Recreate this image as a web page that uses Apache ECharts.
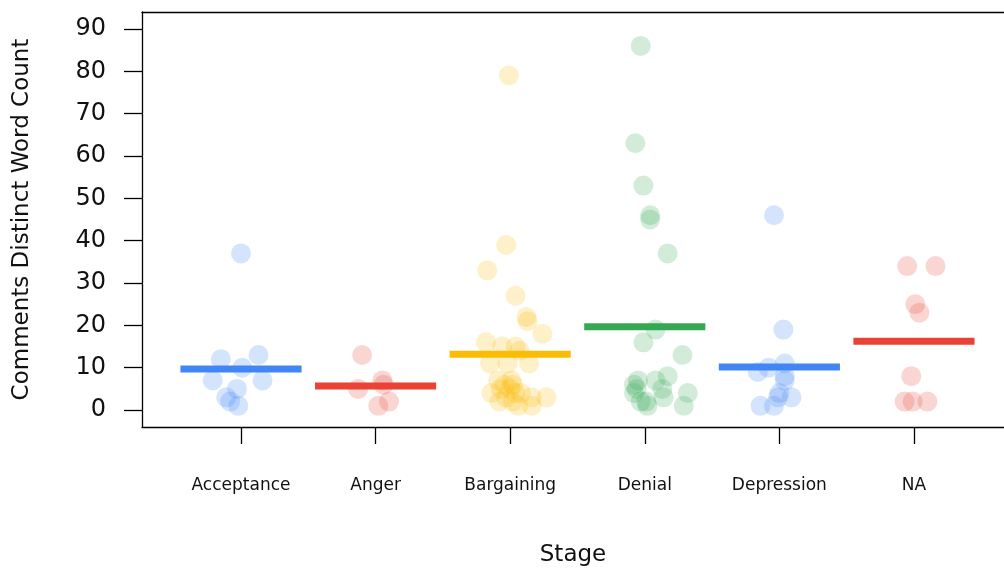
<!DOCTYPE html>
<html>
<head>
<meta charset="utf-8">
<script src="https://cdn.jsdelivr.net/npm/echarts@6/dist/echarts.min.js"></script>
<style>
html,body{margin:0;padding:0;background:#fff;}
#chart{width:1004px;height:568px;}
</style>
</head>
<body>
<div id="chart"></div>
<script>
// ---- data ----
const categories = ['Acceptance', 'Anger', 'Bargaining', 'Denial', 'Depression', 'NA'];
const yTicks = [0, 10, 20, 30, 40, 50, 60, 70, 80, 90];

const acceptanceValues = [37, 12, 13, 10, 7, 7, 5, 3, 2, 1];
const acceptanceJitter = [0, -0.15, 0.13, 0.01, -0.21, 0.16, -0.03, -0.11, -0.08, -0.02];

const angerValues = [13, 5, 7, 6, 1, 2];
const angerJitter = [-0.10, -0.13, 0.05, 0.06, 0.02, 0.10];

const bargainingValues = [79, 39, 33, 27, 22, 21, 18, 16, 15, 15, 14, 11, 11, 11, 7, 7, 6, 6, 5, 5, 4, 4, 4, 3, 3, 3, 2, 2, 1, 1];
const bargainingJitter = [-0.01, -0.03, -0.17, 0.04, 0.12, 0.13, 0.24, -0.18, -0.06, 0.04, 0.07, -0.15, -0.02, 0.14, -0.09, 0.01, 0.02, -0.04, -0.07, 0, 0.04, 0.08, -0.14, -0.03, 0.16, 0.27, -0.08, 0.02, 0.06, 0.16];

const denialValues = [86, 63, 53, 46, 45, 37, 19, 16, 13, 8, 7, 6, 7, 5, 5, 4, 4, 3, 2, 2, 1, 1];
const denialJitter = [-0.03, -0.07, -0.01, 0.04, 0.04, 0.17, 0.08, -0.01, 0.28, 0.17, -0.05, -0.08, 0.08, 0.13, -0.06, -0.08, 0.32, 0.14, 0.01, -0.03, 0.02, 0.29];

const depressionValues = [46, 19, 9, 10, 11, 8, 7, 4, 3, 3, 1, 1];
const depressionJitter = [-0.04, 0.03, -0.16, -0.08, 0.04, 0.04, 0.04, 0, -0.01, 0.09, -0.14, -0.04];

const naValues = [34, 34, 25, 23, 8, 2, 2, 2];
const naJitter = [-0.05, 0.16, 0.01, 0.04, -0.02, -0.07, -0.01, 0.10];

const groupValues = [acceptanceValues, angerValues, bargainingValues, denialValues, depressionValues, naValues];
const groupJitter = [acceptanceJitter, angerJitter, bargainingJitter, denialJitter, depressionJitter, naJitter];

// ---- styles ----
const colors = ['#4285F4', '#EA4335', '#FBBC05', '#34A853', '#4285F4', '#EA4335'];
const FONT = 'DejaVu Sans';
const X_MIN = 0.2645, X_MAX = 6.669;

const series = [];
groupValues.forEach((vals, gi) => {
  const pos = gi + 1;
  series.push({
    type: 'scatter',
    name: categories[gi],
    data: vals.map((v, k) => [pos + groupJitter[gi][k], v]),
    symbol: 'circle',
    symbolSize: 20,
    itemStyle: { color: colors[gi], opacity: 0.22 },
    silent: true,
    z: 2
  });
  const mean = vals.reduce((a, b) => a + b, 0) / vals.length;
  series.push({
    type: 'line',
    data: [[pos - 0.45, mean], [pos + 0.45, mean]],
    symbol: 'none',
    lineStyle: { color: colors[gi], width: 7, cap: 'butt' },
    silent: true,
    z: 3
  });
});

const chart = echarts.init(document.getElementById('chart'), null, { renderer: 'canvas' });
chart.setOption({
  animation: false,
  backgroundColor: '#ffffff',
  grid: { left: 142, top: 12, right: 0, height: 415, containLabel: false, outerBoundsMode: 'none' },
  xAxis: [{
    type: 'value',
    min: X_MIN,
    max: X_MAX,
    position: 'bottom',
    splitLine: { show: false },
    axisLine: { show: true, onZero: false, lineStyle: { color: '#000', width: 1.3 } },
    axisTick: { show: true, length: 17, inside: false, customValues: [1, 2, 3, 4, 5, 6], lineStyle: { color: '#000', width: 1.3 } },
    axisLabel: {
      show: true, customValues: [1, 2, 3, 4, 5, 6], margin: 50,
      formatter: v => categories[Math.round(v) - 1],
      fontFamily: FONT, fontSize: 17, color: '#111'
    },
    name: 'Stage',
    nameLocation: 'middle',
    nameGap: 117,
    nameTextStyle: { fontFamily: FONT, fontSize: 23, color: '#111' }
  }, {
    type: 'value',
    min: X_MIN,
    max: X_MAX,
    position: 'top',
    splitLine: { show: false },
    axisLine: { show: true, onZero: false, lineStyle: { color: '#000', width: 1.3 } },
    axisTick: { show: false },
    axisLabel: { show: false }
  }],
  yAxis: {
    type: 'value',
    min: -4,
    max: 94,
    splitLine: { show: false },
    axisLine: { show: true, onZero: false, lineStyle: { color: '#000', width: 1.3 } },
    axisTick: { show: true, length: 18, inside: false, customValues: yTicks, lineStyle: { color: '#000', width: 1.3 } },
    axisLabel: {
      show: true, customValues: yTicks, margin: 36,
      fontFamily: FONT, fontSize: 24, color: '#111'
    },
    name: 'Comments Distinct Word Count',
    nameLocation: 'middle',
    nameRotate: 90,
    nameGap: 108,
    nameTextStyle: { fontFamily: FONT, fontSize: 23, color: '#111' }
  },
  series: series
});
</script>
</body>
</html>
